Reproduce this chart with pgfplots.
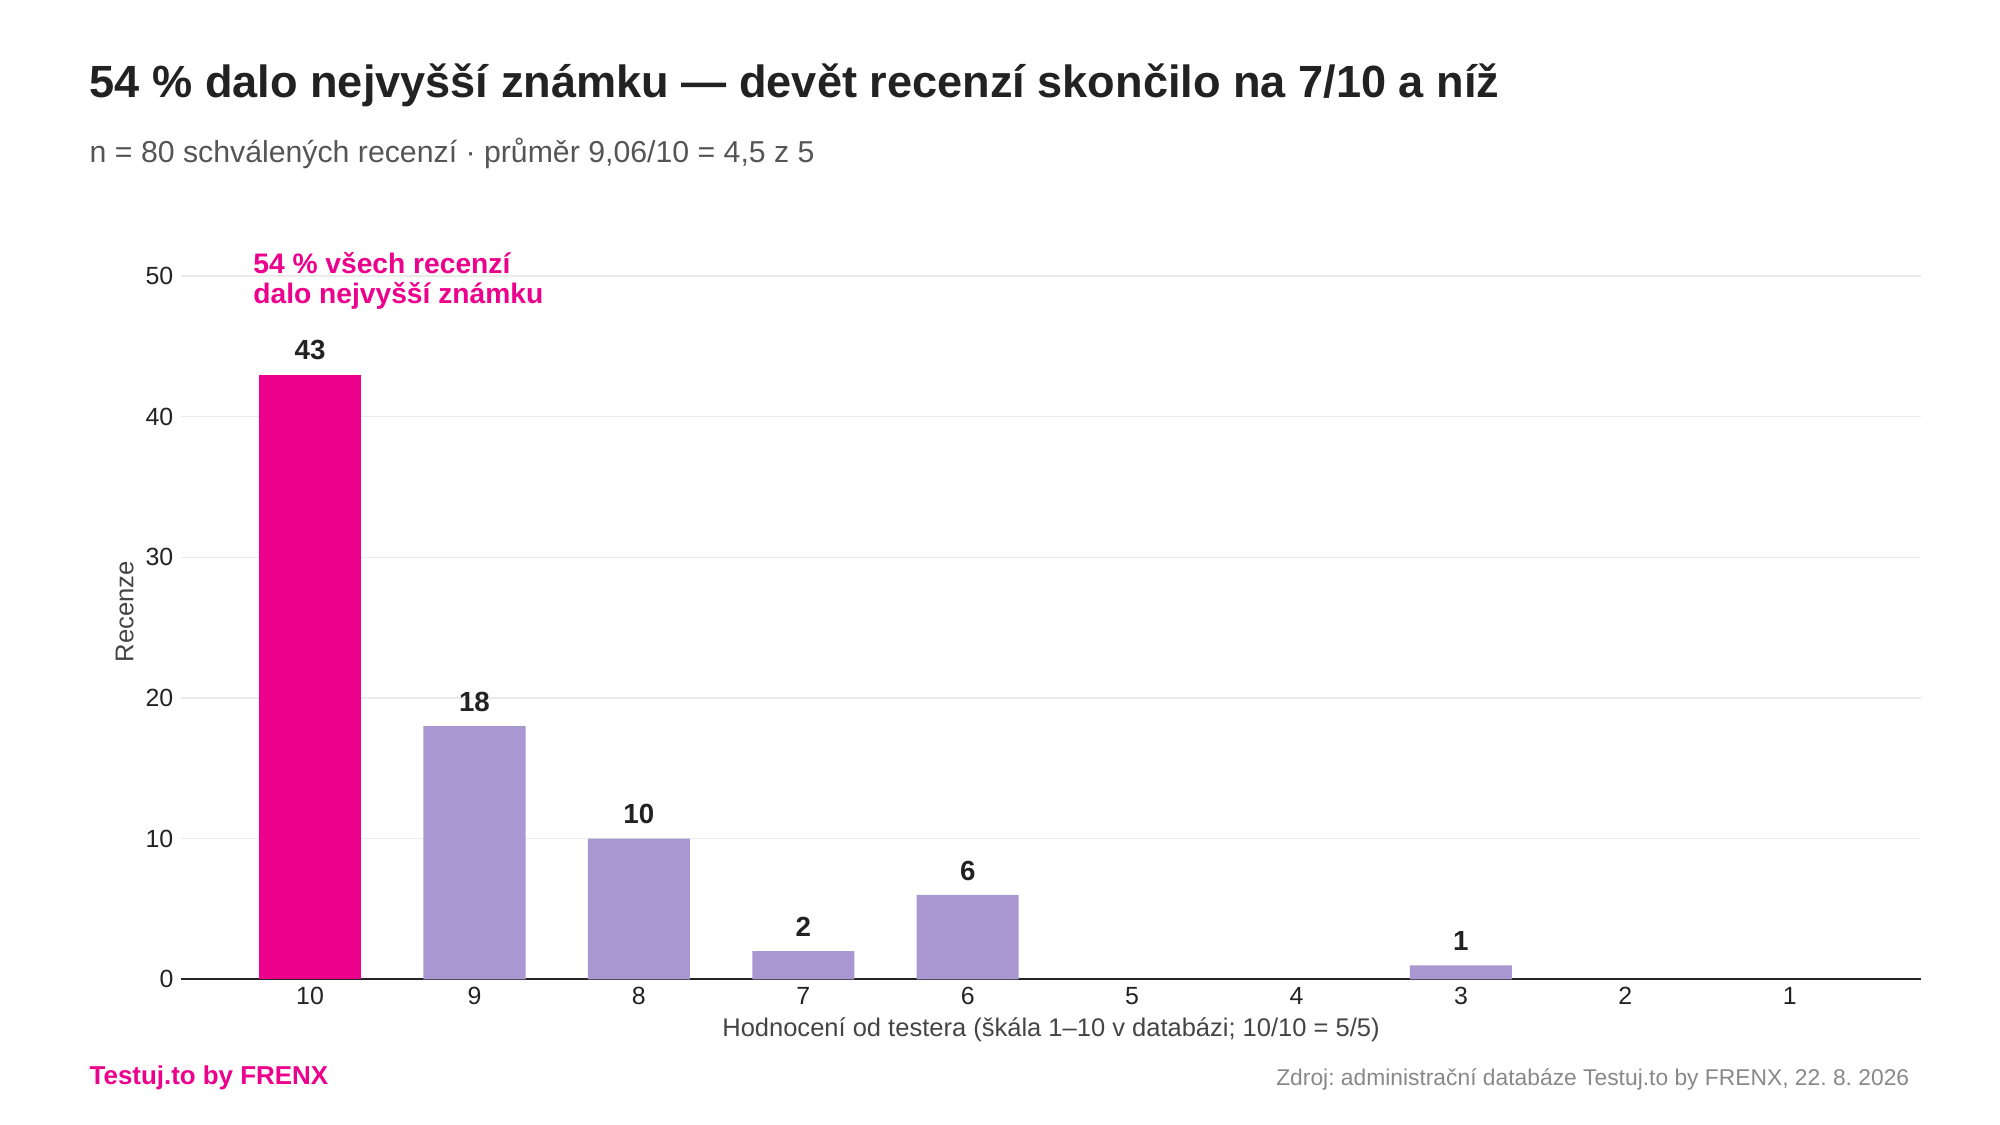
\documentclass[border=0pt]{standalone}
\usepackage{fontspec}
\setmainfont{Liberation Sans}
\usepackage{pgfplots}
\pgfplotsset{compat=1.18}
\frenchspacing

\definecolor{hotpink}{HTML}{EC008C}
\definecolor{lavender}{HTML}{A897D1}
\definecolor{gridgrey}{HTML}{EBEBEB}
\definecolor{titleink}{HTML}{222222}
\definecolor{subink}{HTML}{555555}
\definecolor{srcink}{HTML}{888888}

\begin{document}
\begin{tikzpicture}
  % page frame: 2000x1125 reference -> 780pt x 438.75pt
  \path (0,0) rectangle (780pt,438.75pt);

  \begin{axis}[
    at={(70.4pt,56.8pt)}, anchor=south west,
    scale only axis,
    width=678.9pt, height=286.9pt,
    xmin=-0.788, xmax=9.8,
    ymin=0, ymax=52.3,
    ytick={0,10,...,50},
    xtick={0,...,9},
    xticklabels={10,9,8,7,6,5,4,3,2,1},
    axis x line*=bottom, axis y line*=left,
    x axis line style={-, line width=0.8pt, color=black!85},
    y axis line style={draw=none},
    major tick length=0pt,
    tick style={draw=none},
    ymajorgrids,
    grid style={gridgrey, line width=0.6pt},
    /pgf/number format/assume math mode=true,
    tick label style={font=\fontsize{9.7}{11}\selectfont, text=titleink},
    y tick label style={inner sep=0pt, xshift=-2.6pt},
    x tick label style={anchor=base, inner sep=0pt, yshift=-9.8pt},
    ybar, bar width=39.8pt, bar shift=0pt,
    nodes near coords,
    nodes near coords style={anchor=base, yshift=5.8pt, inner sep=0pt,
      font=\fontsize{10.8}{12}\selectfont\bfseries, text=titleink},
    clip=false,
  ]
    % nejvyssi znamka
    \addplot[fill=hotpink, draw=none] coordinates {(0,43)};
    % ostatni hodnoceni
    \addplot[fill=lavender, draw=none] coordinates {
      (1,18) (2,10) (3,2) (4,6) (7,1)
    };
  \end{axis}

  % titles
  \node[anchor=base west, inner sep=0pt, text=titleink,
    font=\fontsize{17.6}{20}\selectfont\bfseries] at (34.8pt,400.8pt)
    {54 \% dalo nejvyšší známku — devět recenzí skončilo na 7/10 a níž};
  \node[anchor=base west, inner sep=0pt, text=subink,
    font=\fontsize{11.8}{14}\selectfont] at (34.8pt,375.4pt)
    {n = 80 schválených recenzí · průměr 9,06/10 = 4,5 z 5};

  % annotation
  \node[anchor=base west, inner sep=0pt, text=hotpink,
    font=\fontsize{11}{13}\selectfont\bfseries] at (98.6pt,332.2pt)
    {54 \% všech recenzí};
  \node[anchor=base west, inner sep=0pt, text=hotpink,
    font=\fontsize{11}{13}\selectfont\bfseries] at (98.6pt,320.5pt)
    {dalo nejvyšší známku};

  % axis labels
  \node[anchor=base, rotate=90, inner sep=0pt, text=subink!80!black,
    font=\fontsize{10}{12}\selectfont] at (52pt,200.2pt) {Recenze};
  \node[anchor=base, inner sep=0pt, text=subink!80!black,
    font=\fontsize{9.95}{12}\selectfont] at (409.9pt,34.7pt)
    {Hodnocení od testera (škála 1–10 v databázi; 10/10 = 5/5)};

  % footer
  \node[anchor=base west, inner sep=0pt, text=hotpink,
    font=\fontsize{10.1}{12}\selectfont\bfseries] at (34.8pt,15.6pt)
    {Testuj.to by FRENX};
  \node[anchor=base east, inner sep=0pt, text=srcink,
    font=\fontsize{8.9}{10}\selectfont] at (744.8pt,15.4pt)
    {Zdroj: administrační databáze Testuj.to by FRENX, 22. 8. 2026};
\end{tikzpicture}
\end{document}
